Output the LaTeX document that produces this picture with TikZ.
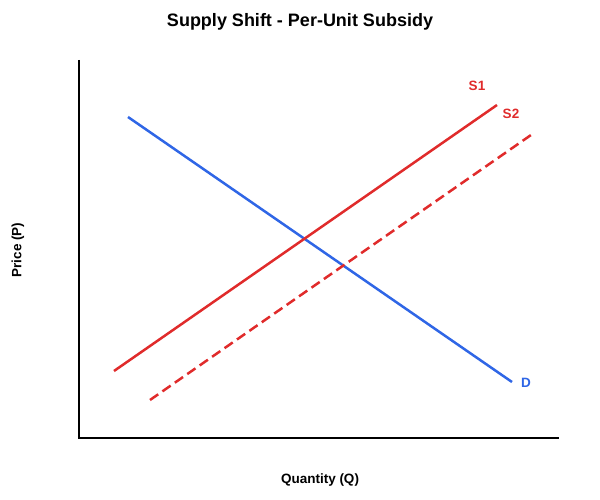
\documentclass[tikz,border=0pt]{standalone}
\usepackage{fontspec}
\setmainfont{Liberation Sans}
\definecolor{sred}{HTML}{E02B2B}
\definecolor{dblue}{HTML}{2F66E6}
\begin{document}
\begin{tikzpicture}[x=1pt,y=-1pt,
  axis/.style={line width=2pt,black},
  curve/.style={line width=2.5pt},
  lbl/.style={font=\bfseries\fontsize{13.5}{15}\selectfont,inner sep=0pt}]
\useasboundingbox (0,0) rectangle (600,500);
\node[font=\bfseries\fontsize{18}{20}\selectfont,inner sep=0pt] (title) at (300,22) {Supply Shift - Per-Unit Subsidy};
\coordinate (otop) at (79,60);
\coordinate (o) at (79,438);
\coordinate (xend) at (559,438);
\draw[axis] (otop) -- (o) -- (xend);
\node[lbl,rotate=90] (ylab) at (18,250) {Price (P)};
\node[lbl] (xlab) at (320,480) {Quantity (Q)};
\coordinate (d1) at (128,117);
\coordinate (d2) at (512,382);
\draw[curve,dblue] (d1) -- (d2);
\node[lbl,text=dblue] (dl) at (526,383) {D};
\coordinate (s1a) at (114,371);
\coordinate (s1b) at (497,105);
\draw[curve,sred] (s1a) -- (s1b);
\node[lbl,text=sred] (s1l) at (477,86) {S1};
\coordinate (s2a) at (150,400);
\coordinate (s2b) at (531,135);
\draw[curve,sred,dash pattern=on 10pt off 5.13pt] (s2a) -- (s2b);
\node[lbl,text=sred] (s2l) at (511,114) {S2};
\end{tikzpicture}
\end{document}
